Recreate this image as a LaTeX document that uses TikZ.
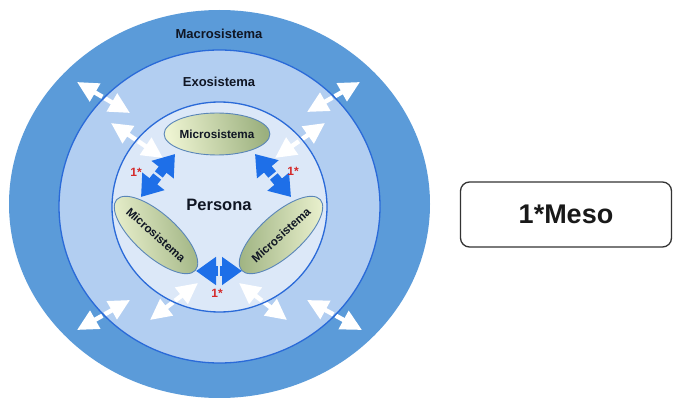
\documentclass[tikz,border=0pt]{standalone}
\usepackage{fontspec}
\setmainfont{Liberation Sans}
\usetikzlibrary{shapes.geometric,arrows.meta,calc}
\definecolor{macroC}{HTML}{5B9BD9}
\definecolor{exoC}{HTML}{B2CEF1}
\definecolor{persC}{HTML}{DCE8F8}
\definecolor{ringline}{HTML}{2A6AD8}
\definecolor{blueArr}{HTML}{1E6FE8}
\definecolor{microL}{HTML}{EEF4D2}
\definecolor{microD}{HTML}{9BB07E}
\definecolor{microB}{HTML}{5A86B8}
\definecolor{redC}{HTML}{D42A2A}
\definecolor{textC}{HTML}{101624}
\newcommand{\twoway}[3]{%
  \coordinate (tw-m) at ($(#2)!0.5!(#3)$);
  \draw[#1] ($(tw-m)!1.3pt!(#2)$) -- (#2);
  \draw[#1] ($(tw-m)!1.3pt!(#3)$) -- (#3);
}
\begin{document}
\begin{tikzpicture}[x=1pt,y=-1pt,
  ring/.style={ellipse, inner sep=0pt, outer sep=0pt},
  ringborder/.style={draw=ringline, line width=1.3pt},
  ringlabel/.style={text=textC, font=\fontsize{13}{15}\selectfont\bfseries},
  microsys/.style={ellipse, draw=microB, line width=0.9pt, inner sep=0pt,
    minimum width=104pt, minimum height=42pt, shading=axis,
    left color=microL, right color=microD, shading angle=100,
    text=textC, font=\fontsize{11.7}{13}\selectfont\bfseries},
  microsysR/.style={microsys, left color=microD, right color=microL},
  whitearr/.style={draw=white, line width=4.5pt, -{Triangle[length=21pt,width=20pt]}},
  bluearr/.style={draw=blueArr, line width=10pt, -{Triangle[length=20pt,width=27pt]}},
  onestar/.style={text=redC, font=\fontsize{12}{14}\selectfont\bfseries},
  legendbox/.style={draw=black!80, line width=1.3pt, rounded corners=9pt,
    minimum width=211pt, minimum height=65pt, fill=white,
    font=\fontsize{27}{30}\selectfont\bfseries, text=black!90}
]
\useasboundingbox (0,0) rectangle (674,398);
% rings
\node[ring, fill=macroC, minimum width=421pt, minimum height=388pt] (macro) at (219.5,204) {};
\node[ring, fill=exoC, minimum width=321pt, minimum height=313pt] (exo) at (219.5,206.5) {};
\node[ring, fill=persC, minimum width=215pt, minimum height=210pt] (pers) at (219.5,207) {};
% white arrows ends
\coordinate (w1a) at (77,82);   \coordinate (w1b) at (130,113);
\coordinate (w2a) at (111,123); \coordinate (w2b) at (163,158);
\coordinate (w3a) at (360,82);  \coordinate (w3b) at (307,112);
\coordinate (w4a) at (325,123); \coordinate (w4b) at (275,158);
\coordinate (w5a) at (77,330);  \coordinate (w5b) at (130,300);
\coordinate (w6a) at (150,320); \coordinate (w6b) at (198,283);
\coordinate (w7a) at (287,320); \coordinate (w7b) at (239,283);
\coordinate (w8a) at (362,330); \coordinate (w8b) at (307,300);
\twoway{whitearr}{w1a}{w1b}
\twoway{whitearr}{w2a}{w2b}
\twoway{whitearr}{w3a}{w3b}
\twoway{whitearr}{w4a}{w4b}
\twoway{whitearr}{w5a}{w5b}
\twoway{whitearr}{w6a}{w6b}
\twoway{whitearr}{w7a}{w7b}
\twoway{whitearr}{w8a}{w8b}
% ring borders over arrows
\draw[ringborder] (exo.center) ellipse [x radius=160.5, y radius=156.5];
\draw[ringborder] (pers.center) ellipse [x radius=107.5, y radius=105];
% labels
\node[ringlabel] (macroT) at (219,34) {Macrosistema};
\node[ringlabel] (exoT) at (219,82) {Exosistema};
\node[text=textC, font=\fontsize{16.5}{18}\selectfont\bfseries] (persT) at (219,205) {Persona};
% microsystems
\node[microsys] (mtop) at (217,134) {Microsistema};
\node[microsys, rotate=-42] (mleft) at (156,235) {Microsistema};
\node[microsysR, rotate=42] (mright) at (281,235) {Microsistema};
% blue arrows
\coordinate (b1a) at (175,154); \coordinate (b1b) at (141,197);
\coordinate (b2a) at (255,154); \coordinate (b2b) at (291,197);
\coordinate (b3a) at (196,271); \coordinate (b3b) at (242,271);
\twoway{bluearr}{b1a}{b1b}
\twoway{bluearr}{b2a}{b2b}
\twoway{bluearr}{b3a}{b3b}
% 1* labels
\node[onestar] (s1) at (136,172) {1*};
\node[onestar] (s2) at (293,171) {1*};
\node[onestar] (s3) at (217,293) {1*};
% legend
\node[legendbox] (legend) at (566,214.5) {1*Meso};
\end{tikzpicture}
\end{document}
